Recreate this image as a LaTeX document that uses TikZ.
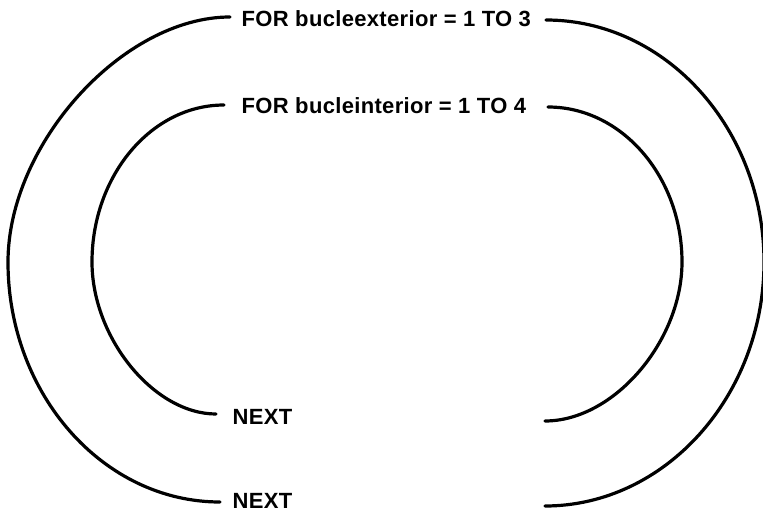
\documentclass[tikz,border=0pt]{standalone}
\usepackage{fontspec}
\setmainfont{Liberation Sans}
\newfontfamily\lblfont[LetterSpace=1.5]{Liberation Sans}
\begin{document}
\begin{tikzpicture}[x=1pt,y=-1pt,
  lbl/.style={inner sep=0pt,anchor=base west,font=\lblfont\fontsize{22}{24}\selectfont\bfseries},
  arc/.style={line width=3.2pt,line cap=round}]
\useasboundingbox (0,0) rectangle (763,514);
% labels
\node[lbl] (forext) at (241.5,27) {FOR bucleexterior = 1 TO 3};
\node[lbl] (forint) at (241.5,113) {FOR bucleinterior = 1 TO 4};
\node[lbl] (nextint) at (232.5,424) {NEXT};
\node[lbl] (nextext) at (232.5,508.5) {NEXT};
% outer left
\coordinate (olt) at (230,17);
\coordinate (oll) at (8,262);
\coordinate (olb) at (220,502);
\draw[arc] (olt) .. controls (123,17) and (8,144) .. (oll)
  .. controls (8,394) and (103,502) .. (olb);
% outer right
\coordinate (ort) at (546,20);
\coordinate (orr) at (764,262);
\coordinate (orb) at (545,506);
\draw[arc] (ort) .. controls (666,20) and (764,129) .. (orr)
  .. controls (764,396) and (665,506) .. (orb);
% inner left
\coordinate (ilt) at (224,105);
\coordinate (ill) at (92,262);
\coordinate (ilb) at (216,414);
\draw[arc] (ilt) .. controls (151,105) and (92,176) .. (ill)
  .. controls (92,338) and (154,414) .. (ilb);
% inner right
\coordinate (irt) at (548,107);
\coordinate (irr) at (682,262);
\coordinate (irb) at (545,421);
\draw[arc] (irt) .. controls (622,107) and (682,177) .. (irr)
  .. controls (682,341) and (614,421) .. (irb);
\end{tikzpicture}
\end{document}
